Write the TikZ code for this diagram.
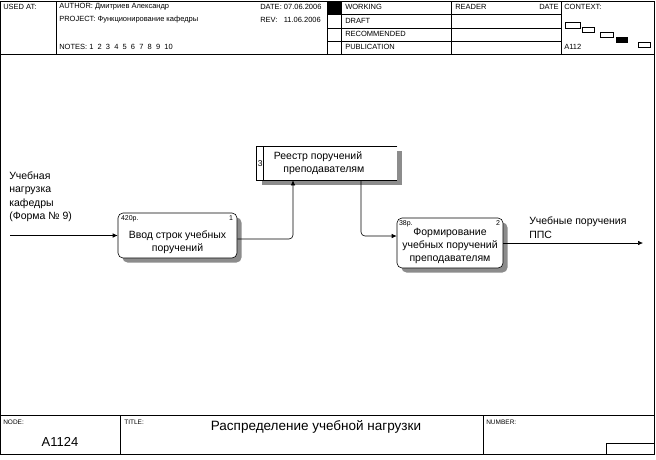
\documentclass[tikz,border=0pt]{standalone}
\usepackage{fontspec}
\setmainfont{Liberation Sans}
\usetikzlibrary{positioning,arrows.meta,patterns,shadows}

\begin{document}
\begin{tikzpicture}[x=1pt, y=-1pt, line width=0.6pt, >={Latex[length=5pt,width=4.5pt]},
      hdr/.style={font=\fontsize{7.5}{8}\selectfont, anchor=west, inner sep=0pt},
      act/.style={draw, rounded corners=5pt, fill=white, inner sep=0pt,
                  general shadow={shadow xshift=4.5pt, shadow yshift=-4.5pt, fill=black!45}},
      txt/.style={font=\fontsize{10.5}{13}\selectfont, align=center, inner sep=0pt},
      num/.style={font=\fontsize{7}{8}\selectfont, inner sep=0pt},
      lbl/.style={font=\fontsize{10.5}{13.6}\selectfont, align=left, inner sep=0pt, anchor=north west},
      shade/.style={fill=black!45}]
    \useasboundingbox (0,0) rectangle (656,459);
    % frame, header and footer
    \draw (0.5,1) rectangle (654.5,454.5);
    \draw (0.5,54) -- (654.5,54);
    \foreach \x in {56,327,341,451,561} \draw (\x,1) -- (\x,54);
    \foreach \y in {14,28,41} \draw (327,\y) -- (561,\y);
    \fill (327,1) rectangle (341,14);
    \draw (0.5,415) -- (654.5,415);
    \draw (120,415) -- (120,454.5);
    \draw (483,415) -- (483,454.5);
    \draw (606,443) rectangle (654.5,454.5);
    \node[hdr] (used) at (3,7) {USED AT:};
    \node[hdr] (author) at (59,7) {AUTHOR: Дмитриев Александр};
    \node[hdr] (project) at (59,20) {PROJECT: Функционирование кафедры};
    \node[hdr] (notes) at (59,47) {NOTES:\ 1\ \ 2\ \ 3\ \ 4\ \ 5\ \ 6\ \ 7\ \ 8\ \ 9\ \ 10};
    \node[hdr] (date) at (260,7) {DATE: 07.06.2006};
    \node[hdr] (rev) at (260,20) {REV: \ \ 11.06.2006};
    \foreach \t/\y/\n in {WORKING/7/wrk, DRAFT/21/drf, RECOMMENDED/34/rec, PUBLICATION/47/pub}
      \node[hdr] (\n) at (345,\y) {\t};
    \node[hdr] (reader) at (455,7) {READER};
    \node[hdr, anchor=east] (rdate) at (559,7) {DATE};
    \node[hdr] (context) at (564,7) {CONTEXT:};
    \node[hdr] (ctxnode) at (564,47) {A112};
    \draw (565,22) rectangle (580,28);
    \draw (582,27) rectangle (594,32);
    \draw (600,32) rectangle (613,37);
    \fill (616,37) rectangle (628,43);
    \draw (638,42) rectangle (650,47);
    \node[hdr, font=\fontsize{6.5}{7}\selectfont] (nodelbl) at (3,422) {NODE:};
    \node[hdr, font=\fontsize{6.5}{7}\selectfont] (titlelbl) at (124,422) {TITLE:};
    \node[hdr, font=\fontsize{6.5}{7}\selectfont] (numlbl) at (486,422) {NUMBER:};
    \node[font=\fontsize{13}{15}\selectfont, inner sep=0pt] (nodeid) at (60,442) {A1124};
    \node[font=\fontsize{13.5}{15}\selectfont, inner sep=0pt] (title) at (316,427) {Распределение учебной нагрузки};
    % activities
    \node[act, minimum width=119pt, minimum height=45pt] (box1) at (177.5,235.5) {};
    \node[txt] (t1) at ([yshift=-7pt]box1.center) {Ввод строк учебных\\поручений};
    \node[num, anchor=north west] at ([xshift=3pt,yshift=-3pt]box1.north west) {420р.};
    \node[num, anchor=north east] at ([xshift=-4pt,yshift=-3pt]box1.north east) {1};
    \node[act, minimum width=106pt, minimum height=50pt] (box2) at (450,243) {};
    \node[txt] (t2) at ([yshift=-3pt]box2.center) {Формирование\\учебных поручений\\преподавателям};
    \node[num, anchor=north west] at ([xshift=2pt,yshift=-3pt]box2.north west) {38р.};
    \node[num, anchor=north east] at ([xshift=-3pt,yshift=-3pt]box2.north east) {2};
    % data store
    \node[minimum width=140pt, minimum height=33pt, inner sep=0pt] (store) at (327,163.5) {};
    \path[shade] ([xshift=5pt]store.south west) rectangle ([xshift=5pt,yshift=-5pt]store.south east);
    \path[shade] ([yshift=-4pt]store.north east) rectangle ([xshift=5pt,yshift=-5pt]store.south east);
    \fill[white] (store.north west) rectangle (store.south east);
    \draw (store.north east) -- (store.north west) -- (store.south west) -- (store.south east);
    \draw ([xshift=7pt]store.north west) -- ([xshift=7pt]store.south west);
    \node[num, font=\fontsize{8.5}{10}\selectfont] (s3) at ([xshift=3.5pt]store.west) {3};
    \node[txt] (ts) at ([xshift=-9pt]store.center) {Реестр поручений\\\ \ \ \ преподавателям};
    % arrows
    \coordinate (src) at (10,235.5);
    \coordinate (dst) at (643,243);
    \draw[->] (src) -- (box1.west);
    \draw[->, rounded corners=4pt] ([yshift=-3.5pt]box1.east) -| ([xshift=-34pt]store.south);
    \draw[->, rounded corners=4pt] ([xshift=34pt]store.south) |- ([yshift=7pt]box2.west);
    \draw[->] (box2.east) -- (dst);
    \node[lbl] (inlbl) at (9,171) {Учебная\\нагрузка\\кафедры\\(Форма № 9)};
    \node[lbl, font=\fontsize{10.5}{14}\selectfont] (outlbl) at (529,216) {Учебные поручения\\ППС};
  \end{tikzpicture}
\end{document}
